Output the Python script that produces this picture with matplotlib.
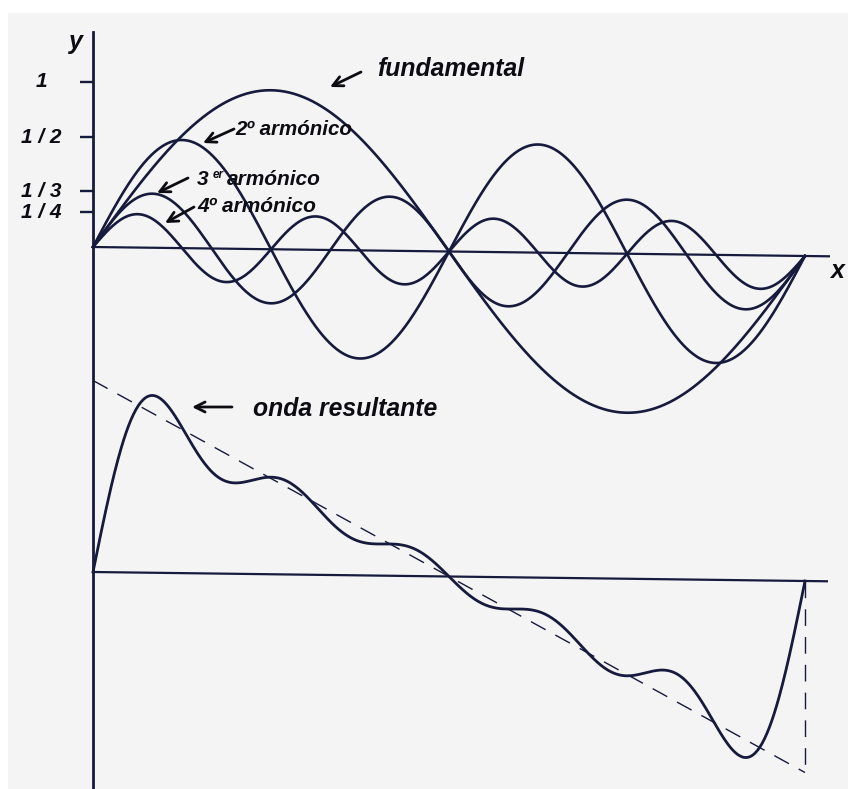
import numpy as np
import matplotlib
matplotlib.use('Agg')
import matplotlib.pyplot as plt
from matplotlib.lines import Line2D
from matplotlib.patches import Rectangle

# ---------------- data ----------------
harmonic_numbers = [1, 2, 3, 4]
harmonic_amplitudes = [1.0, 0.68, 0.34, 0.21]      # drawn amplitude, relative to fundamental
tick_levels = [1.04, 0.69, 0.35, 0.22]
tick_labels = ['1', '1 / 2', '1 / 3', '1 / 4']
resultant_terms = [1, 2, 3, 4, 5]                   # onda resultante = sum sin(n t)/n (wiggles as drawn)
sawtooth_ends = [1.71, -1.71]                       # dashed reference line (start, end)
n_samples = 600

# ---------------- style / layout ----------------
W, H = 848, 789
LINE = '#161a3c'
TXT = '#0c0c12'
FONT = dict(family='Liberation Sans', weight='bold', style='italic', color=TXT)
X0 = 93.0                     # pixel column of y axis
PX_T = 712.0 / (2 * np.pi)    # pixels per unit of t
U_BASE, U_SCALE = 247.0, 159.0
L_BASE, L_SCALE = 572.0, 112.0
U_DROP = 9.0                  # baseline tilt in pixels over one period
L_DROP = 9.0

fig = plt.figure(figsize=(W / 100, H / 100), dpi=100, facecolor='white')
fig.add_artist(Rectangle((8 / W, 0), 1, 1 - 13 / H, transform=fig.transFigure,
                         facecolor='#f4f4f4', edgecolor='none', zorder=0))

xlim = (-X0 / PX_T, (W - X0) / PX_T)

ax_u = fig.add_axes([0, 1 - 470 / H, 1, 470 / H])
ax_u.set_xlim(*xlim)
ax_u.set_ylim((U_BASE - 470) / U_SCALE, U_BASE / U_SCALE)
ax_u.axis('off')
ax_u.patch.set_alpha(0)

ax_l = fig.add_axes([0, 0, 1, (789 - 330) / H])
ax_l.set_xlim(*xlim)
ax_l.set_ylim((L_BASE - 789) / L_SCALE, (L_BASE - 330) / L_SCALE)
ax_l.axis('off')
ax_l.patch.set_alpha(0)


def U(px, py):
    return ((px - X0) / PX_T, (U_BASE - py) / U_SCALE)


def L(px, py):
    return ((px - X0) / PX_T, (L_BASE - py) / L_SCALE)


t = np.linspace(0, 2 * np.pi, n_samples)
u_drift = -(U_DROP / U_SCALE) * t / (2 * np.pi)
l_drift = -(L_DROP / L_SCALE) * t / (2 * np.pi)

# y axis (continuous through both panels)
fig.add_artist(Line2D([X0 / W, X0 / W], [1 - 32 / H, 0], lw=2.0, color=LINE))

# ---------------- upper panel: harmonics ----------------
t_end_u = (830 - X0) / PX_T
ax_u.plot([0, t_end_u], [0, -(U_DROP / U_SCALE) * t_end_u / (2 * np.pi)],
          color=LINE, lw=1.6, solid_capstyle='butt')
for n, a in zip(harmonic_numbers, harmonic_amplitudes):
    ax_u.plot(t, a * np.sin(n * t) + u_drift, color=LINE, lw=1.9)

ax_u.hlines(tick_levels, -13 / PX_T, 0, color=LINE, lw=1.7)
for lev, lab in zip(tick_levels, tick_labels):
    ax_u.text(-52 / PX_T, lev, lab, ha='center', va='center', fontsize=15, **FONT)

ax_u.text(*U(75, 42), 'y', ha='center', va='center', fontsize=18, **FONT)
ax_u.text(*U(837, 271), 'x', ha='center', va='center', fontsize=18, **FONT)

arrow = dict(arrowstyle='->', color=TXT, lw=2.0, mutation_scale=18,
             shrinkA=0, shrinkB=0)
ax_u.annotate('', xy=U(330, 87), xytext=U(361, 72), arrowprops=arrow)
ax_u.annotate('', xy=U(203, 143), xytext=U(234, 129), arrowprops=arrow)
ax_u.annotate('', xy=U(157, 193), xytext=U(188, 178), arrowprops=arrow)
ax_u.annotate('', xy=U(165, 223), xytext=U(194, 207), arrowprops=arrow)

ax_u.text(*U(377, 76), 'fundamental', ha='left', va='baseline', fontsize=17.8, **FONT)
ax_u.text(*U(235, 135), '2º armónico', ha='left', va='baseline', fontsize=14.8, **FONT)
ax_u.text(*U(197, 185), '3', ha='left', va='baseline', fontsize=15, **FONT)
ax_u.text(*U(213, 178), 'er', ha='left', va='baseline', fontsize=8.5, **FONT)
ax_u.text(*U(227, 185), 'armónico', ha='left', va='baseline', fontsize=15, **FONT)
ax_u.text(*U(197, 212), '4º armónico', ha='left', va='baseline', fontsize=15, **FONT)

# ---------------- lower panel: resultant ----------------
t_end_l = (828 - X0) / PX_T
ax_l.plot([0, t_end_l], [0, -(L_DROP / L_SCALE) * t_end_l / (2 * np.pi)],
          color=LINE, lw=1.6, solid_capstyle='butt')
resultant = sum(np.sin(n * t) / n for n in resultant_terms)
ax_l.plot(t, resultant + l_drift, color=LINE, lw=2.0)

saw_t = [0, 2 * np.pi]
saw_y = [sawtooth_ends[0], sawtooth_ends[1] - L_DROP / L_SCALE]
ax_l.plot(saw_t, saw_y, color=LINE, lw=1.0, dashes=(12, 8))
ax_l.plot([2 * np.pi, 2 * np.pi], [-L_DROP / L_SCALE, saw_y[1]],
          color=LINE, lw=1.0, dashes=(12, 8))

ax_l.annotate('', xy=L(192, 407), xytext=L(232, 407), arrowprops=arrow)
ax_l.text(*L(253, 416), 'onda resultante', ha='left', va='baseline', fontsize=17.8, **FONT)

fig.savefig('out.png', dpi=100, facecolor=fig.get_facecolor())
